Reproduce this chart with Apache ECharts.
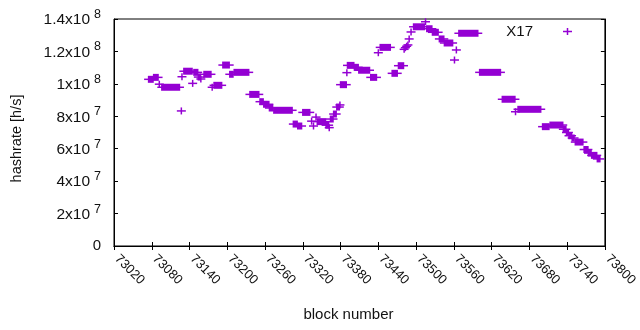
<!DOCTYPE html>
<html>
<head>
<meta charset="utf-8">
<script src="https://cdn.jsdelivr.net/npm/echarts@6/dist/echarts.min.js"></script>
<style>
  html, body { margin: 0; padding: 0; background: #fff; }
  #chart { width: 640px; height: 330px; }
</style>
</head>
<body>
<div id="chart"></div>
<script>
// runs of blocks that share the same hashrate (first block, last block, h/s)
var runFirst = [73075, 73083, 73092, 73096, 73127, 73128, 73131, 73145, 73147, 73154,
  73158, 73163, 73176, 73179, 73193, 73204, 73211, 73236, 73252, 73258,
  73267, 73274, 73305, 73312, 73320, 73334, 73337, 73341, 73343, 73357,
  73362, 73364, 73369, 73374, 73379, 73380, 73390, 73391, 73402, 73409,
  73428, 73440, 73443, 73462, 73472, 73481, 73483, 73485, 73487, 73489,
  73492, 73496, 73515, 73517, 73526, 73537, 73545, 73561, 73564, 73568,
  73601, 73637, 73658, 73662, 73701, 73713, 73734, 73739, 73743, 73748,
  73753, 73767, 73774, 73779, 73788];
var runLast = [73082, 73090, 73092, 73124, 73127, 73128, 73144, 73145, 73153, 73157,
  73158, 73174, 73176, 73191, 73203, 73209, 73234, 73250, 73257, 73266,
  73272, 73303, 73311, 73318, 73331, 73334, 73337, 73341, 73356, 73361,
  73362, 73368, 73373, 73378, 73379, 73389, 73390, 73401, 73408, 73426,
  73437, 73440, 73459, 73470, 73480, 73481, 73483, 73485, 73487, 73489,
  73492, 73513, 73515, 73525, 73535, 73544, 73558, 73561, 73564, 73598,
  73634, 73657, 73658, 73698, 73711, 73733, 73738, 73742, 73747, 73751,
  73765, 73773, 73778, 73787, 73792];
var runRate = [102.8e6, 104.0e6, 99.8e6, 97.9e6, 83.3e6, 104.4e6, 107.8e6, 100.3e6, 107.1e6, 104.2e6,
  103.0e6, 105.9e6, 97.9e6, 99.1e6, 111.6e6, 105.9e6, 107.1e6, 93.5e6, 89.0e6, 87.4e6,
  85.1e6, 83.7e6, 75.2e6, 74.0e6, 82.4e6, 77.0e6, 74.0e6, 79.5e6, 76.7e6, 74.5e6,
  73.0e6, 78.3e6, 81.4e6, 85.7e6, 87.0e6, 99.5e6, 106.9e6, 111.4e6, 110.2e6, 108.4e6,
  104.0e6, 119.2e6, 122.5e6, 106.5e6, 111.2e6, 121.3e6, 122.3e6, 123.2e6, 124.0e6, 127.7e6,
  132.0e6, 135.2e6, 138.3e6, 134.0e6, 131.8e6, 127.7e6, 125.2e6, 114.7e6, 120.9e6, 131.2e6,
  107.1e6, 90.5e6, 82.8e6, 84.3e6, 73.6e6, 74.6e6, 72.0e6, 70.0e6, 68.0e6, 66.6e6,
  64.1e6, 59.5e6, 57.3e6, 55.9e6, 53.7e6];

var seriesName = 'X17';
var xMin = 73020, xMax = 73800, xStep = 60;
var yMin = 0, yMax = 1.4e8, yStep = 2e7;

var purple = '#9400d3';
var font = 'Liberation Sans';
var plusIcon = 'path://M37.5,0H52.5V27.5H90V42.5H52.5V70H37.5V42.5H0V27.5H37.5Z';

var runs = [];
for (var i = 0; i < runFirst.length; i++) {
  runs.push([runFirst[i], runLast[i], runRate[i]]);
}

// a run of '+' marks: the vertical bars merge into a block, the arms stick out
function renderRun(params, api) {
  var a = api.coord([api.value(0), api.value(2)]);
  var b = api.coord([api.value(1), api.value(2)]);
  var color = api.visual('color');
  return {
    type: 'group',
    children: [
      { type: 'rect', shape: { x: a[0] - 0.75, y: a[1] - 3.5, width: b[0] - a[0] + 1.5, height: 7 }, style: { fill: color } },
      { type: 'rect', shape: { x: a[0] - 4.5, y: a[1] - 0.75, width: b[0] - a[0] + 9, height: 1.5 }, style: { fill: color } }
    ]
  };
}

// 1.4x10^8 style labels, like gnuplot
function yLabel(v) {
  if (v === 0) return '0';
  var e = Math.floor(Math.log10(v) + 1e-9);
  var m = Math.round(v / Math.pow(10, e) * 10) / 10;
  return '{m|' + m + 'x10}{s|' + e + '}';
}

var tickStyle = { show: true, inside: true, length: 4, lineStyle: { color: '#000' } };

var chart = echarts.init(document.getElementById('chart'));
chart.setOption({
  animation: false,
  backgroundColor: '#fff',
  grid: { left: 114, right: 31, top: 19, bottom: 84, show: true, borderColor: '#000', borderWidth: 1 },
  legend: {
    data: [seriesName],
    right: 68,
    top: 24,
    padding: 0,
    align: 'right',
    icon: plusIcon,
    itemWidth: 9,
    itemHeight: 7,
    textStyle: { fontFamily: font, fontSize: 15, color: '#111', padding: [0, 25, 0, 0] }
  },
  xAxis: [{
    type: 'value',
    min: xMin, max: xMax, interval: xStep,
    position: 'bottom',
    name: 'block number',
    nameLocation: 'middle',
    nameGap: 61,
    nameTextStyle: { fontFamily: font, fontSize: 15, color: '#111', padding: [0, 22, 0, 0] },
    axisLine: { show: true, lineStyle: { color: '#000' } },
    axisTick: tickStyle,
    axisLabel: {
      rotate: -45, margin: 8, padding: [0, 0, 0, 4], fontFamily: font, fontSize: 13, color: '#111',
      formatter: function (v) { return String(v); }
    },
    splitLine: { show: false }
  }, {
    type: 'value',
    min: xMin, max: xMax, interval: xStep,
    position: 'top',
    axisLine: { show: true, lineStyle: { color: '#000' } },
    axisTick: tickStyle,
    axisLabel: { show: false },
    splitLine: { show: false }
  }],
  yAxis: [{
    type: 'value',
    min: yMin, max: yMax, interval: yStep,
    position: 'left',
    name: 'hashrate [h/s]',
    nameLocation: 'middle',
    nameGap: 90,
    nameTextStyle: { fontFamily: font, fontSize: 14.5, color: '#111', padding: [0, 12, 0, 0] },
    axisLine: { show: true, lineStyle: { color: '#000' } },
    axisTick: tickStyle,
    axisLabel: {
      margin: 13, fontFamily: font, fontSize: 15, color: '#111',
      formatter: yLabel,
      rich: {
        m: { fontFamily: font, fontSize: 15.5, color: '#111', lineHeight: 22, padding: [2, 0, 0, 0] },
        s: { fontFamily: font, fontSize: 12.5, color: '#111', lineHeight: 13, verticalAlign: 'top', padding: [0, 0, 0, 4] }
      }
    },
    splitLine: { show: false }
  }, {
    type: 'value',
    min: yMin, max: yMax, interval: yStep,
    position: 'right',
    axisLine: { show: true, lineStyle: { color: '#000' } },
    axisTick: tickStyle,
    axisLabel: { show: false },
    splitLine: { show: false }
  }],
  series: [{
    name: seriesName,
    type: 'custom',
    xAxisIndex: 0,
    yAxisIndex: 0,
    color: purple,
    renderItem: renderRun,
    encode: { x: [0, 1], y: 2 },
    data: runs
  }]
});
</script>
</body>
</html>
